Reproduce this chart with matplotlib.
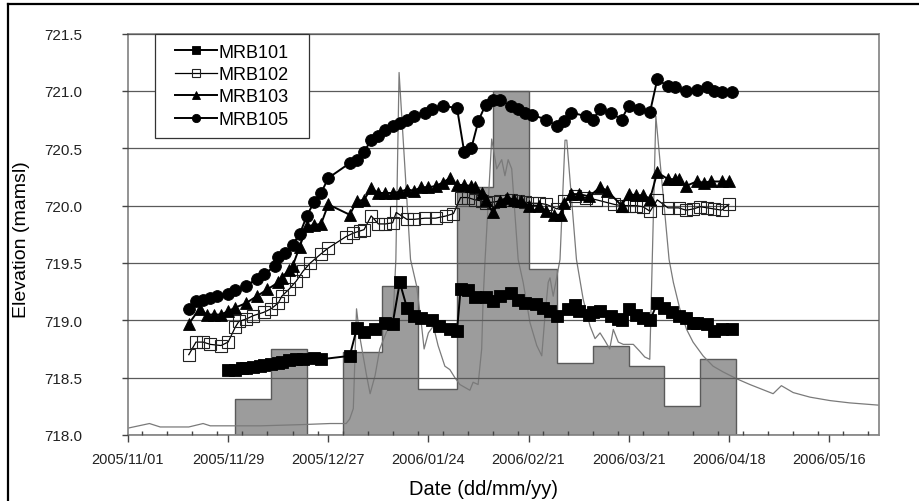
import numpy as np
import matplotlib
matplotlib.use("Agg")
import matplotlib.pyplot as plt
import matplotlib.dates as mdates
from matplotlib.lines import Line2D
from matplotlib.patches import Rectangle

plt.rcParams["font.family"] = ["Liberation Sans", "DejaVu Sans"]

START = "2005-11-01"

# Thin grey trace (river stage), days since START and elevation
stage_days = [0, 6, 9, 17, 21, 23, 37, 48, 56.5, 61, 62, 63, 63.9, 64.8, 66.7, 67.7, 69.1,
              70.4, 72.3, 74.1, 74.9, 75.8, 79.0, 80.7, 82.1, 82.8, 84.0, 85.4, 86.7, 88.6,
              90.0, 91.4, 92.8, 95.6, 96.5, 97.9, 98.9, 99.3, 99.8, 101.7, 103.1, 104.5,
              105.4, 106.3, 107.3, 109.1, 110.5, 112.4, 114.3, 115.7, 116.6, 117.5, 118.0,
              118.9, 120.8, 122.2, 122.7, 125.4, 127.3, 129.2, 130.6, 132.0, 133.4, 134.7,
              135.7, 137.1, 138.5, 141.3, 143.1, 144.5, 145.9, 147.6, 151.3, 152.5, 154.3,
              156.2, 158.0, 160.8, 163.6, 166.4, 170.2, 173.9, 180.4, 182.7, 186.0, 190.7,
              196.3, 201.8, 210]
stage_elev = [718.06, 718.10, 718.07, 718.07, 718.10, 718.08, 718.08, 718.09, 718.10, 718.10,
              718.14, 718.23, 719.10, 718.86, 718.52, 718.36, 718.52, 718.75, 718.90, 719.00,
              719.53, 721.16, 719.53, 719.30, 718.95, 718.75, 718.89, 718.95, 718.78, 718.60,
              718.57, 718.50, 718.44, 718.39, 718.46, 718.44, 718.75, 719.18, 719.50, 720.58,
              720.32, 720.40, 720.26, 720.40, 720.32, 719.53, 719.33, 718.98, 718.78, 718.69,
              719.04, 719.33, 719.37, 719.21, 719.53, 720.57, 720.57, 719.53, 719.18, 718.95,
              718.84, 718.89, 718.82, 718.75, 718.92, 718.81, 718.79, 718.79, 718.73, 718.68,
              718.66, 720.78, 719.53, 719.33, 719.10, 718.92, 718.81, 718.69, 718.60, 718.55,
              718.49, 718.44, 718.36, 718.43, 718.37, 718.33, 718.30, 718.28, 718.26]

# Ten-day rainfall blocks, drawn on the elevation scale
rain_edges = ["2005-12-01", "2005-12-11", "2005-12-21", "2005-12-31", "2006-01-11",
              "2006-01-21", "2006-02-01", "2006-02-11", "2006-02-21", "2006-03-01",
              "2006-03-11", "2006-03-21", "2006-03-31", "2006-04-10", "2006-04-20"]
rain_level = [718.31, 718.75, 718.00, 718.72, 719.30, 718.40, 720.16, 721.00, 719.45,
              718.63, 718.78, 718.60, 718.25, 718.66]

mrb101_days = [28, 30, 32, 33, 35, 37, 38, 40, 42, 43, 45, 47, 49, 52, 54, 62, 64, 66, 69, 72,
               74, 76, 78, 80, 82, 85, 87, 90, 92, 93, 95, 97, 100, 102, 104, 107, 109, 111,
               114, 116, 118, 120, 123, 125, 126, 129, 130, 132, 135, 137, 138, 140, 142, 144,
               146, 148, 150, 152, 154, 156, 158, 159, 162, 164, 166, 169]
mrb101_elev = [718.57, 718.57, 718.58, 718.58, 718.59, 718.60, 718.61, 718.62, 718.63, 718.64,
               718.65, 718.66, 718.66, 718.67, 718.66, 718.69, 718.93, 718.90, 718.92, 718.98,
               718.97, 719.33, 719.11, 719.04, 719.02, 719.00, 718.95, 718.92, 718.91, 719.27,
               719.26, 719.20, 719.20, 719.17, 719.21, 719.24, 719.18, 719.15, 719.14, 719.11,
               719.08, 719.04, 719.10, 719.13, 719.08, 719.05, 719.07, 719.08, 719.04, 719.01,
               719.00, 719.10, 719.05, 719.02, 719.00, 719.15, 719.11, 719.07, 719.04, 719.02,
               718.98, 718.98, 718.97, 718.91, 718.92, 718.92]

mrb102_days = [17, 19, 21, 23, 26, 28, 30, 31, 33, 35, 38, 40, 42, 43, 45, 47, 49, 51, 54, 56,
               61, 63, 65, 66, 68, 70, 72, 74, 75, 78, 80, 83, 86, 89, 91, 93, 95, 97, 99, 100,
               102, 104, 107, 109, 111, 113, 115, 117, 120, 122, 125, 128, 131, 136, 138, 140,
               142, 144, 146, 148, 151, 154, 156, 158, 160, 162, 164, 166, 168]
mrb102_elev = [718.70, 718.81, 718.81, 718.79, 718.78, 718.81, 718.94, 718.99, 719.01, 719.04,
               719.07, 719.10, 719.15, 719.21, 719.27, 719.34, 719.43, 719.50, 719.58, 719.63,
               719.73, 719.76, 719.78, 719.79, 719.91, 719.84, 719.84, 719.85, 719.94, 719.88,
               719.88, 719.89, 719.89, 719.91, 719.93, 720.07, 720.07, 720.05, 720.04, 720.02,
               720.03, 720.04, 720.05, 720.04, 720.03, 720.02, 720.02, 720.01, 719.97, 720.04,
               720.08, 720.07, 720.05, 720.01, 720.00, 720.00, 720.00, 719.99, 719.95, 720.05,
               719.98, 719.98, 719.96, 719.97, 719.99, 719.98, 719.97, 719.96, 720.01]

mrb103_days = [17, 20, 22, 24, 26, 28, 30, 33, 36, 39, 42, 43, 45, 46, 48, 50, 52, 54, 56, 62,
               64, 66, 68, 70, 72, 74, 76, 78, 80, 82, 84, 86, 88, 90, 92, 94, 96, 97, 99, 100,
               102, 104, 106, 108, 110, 112, 115, 117, 119, 121, 122, 124, 126, 129, 132, 134,
               138, 140, 142, 144, 146, 148, 151, 153, 154, 156, 159, 161, 163, 166, 168]
mrb103_elev = [718.97, 719.10, 719.05, 719.05, 719.05, 719.08, 719.11, 719.15, 719.21, 719.27,
               719.33, 719.37, 719.44, 719.47, 719.64, 719.82, 719.83, 719.84, 720.01, 719.92,
               720.04, 720.05, 720.15, 720.11, 720.11, 720.11, 720.12, 720.14, 720.13, 720.16,
               720.16, 720.17, 720.20, 720.24, 720.18, 720.18, 720.17, 720.16, 720.11, 720.05,
               719.94, 720.04, 720.07, 720.05, 720.04, 720.00, 720.00, 719.95, 719.92, 719.92,
               720.02, 720.10, 720.10, 720.08, 720.16, 720.13, 720.00, 720.10, 720.09, 720.09,
               720.06, 720.29, 720.23, 720.23, 720.23, 720.17, 720.21, 720.20, 720.21, 720.21,
               720.21]

mrb105_days = [17, 19, 21, 23, 25, 28, 30, 33, 36, 38, 41, 42, 44, 46, 48, 50, 52, 54, 56, 62,
               64, 66, 68, 70, 72, 74, 76, 78, 80, 83, 85, 88, 92, 94, 96, 98, 100, 102, 104,
               107, 109, 111, 113, 117, 120, 122, 124, 128, 130, 132, 135, 138, 140, 143, 146,
               148, 151, 153, 156, 159, 162, 164, 166, 169]
mrb105_elev = [719.10, 719.17, 719.18, 719.19, 719.21, 719.23, 719.26, 719.30, 719.36, 719.40,
               719.47, 719.55, 719.59, 719.66, 719.75, 719.91, 720.03, 720.11, 720.24, 720.37,
               720.40, 720.47, 720.57, 720.61, 720.66, 720.69, 720.72, 720.75, 720.78, 720.81,
               720.84, 720.87, 720.85, 720.47, 720.50, 720.74, 720.88, 720.92, 720.92, 720.87,
               720.84, 720.81, 720.79, 720.75, 720.69, 720.74, 720.81, 720.78, 720.75, 720.84,
               720.81, 720.75, 720.87, 720.84, 720.82, 721.10, 721.04, 721.03, 721.00, 721.01,
               721.03, 721.00, 720.99, 720.99]

tick_dates = ["2005-11-01", "2005-11-29", "2005-12-27", "2006-01-24", "2006-02-21",
              "2006-03-21", "2006-04-18", "2006-05-16"]
tick_labels = ["2005/11/01", "2005/11/29", "2005/12/27", "2006/01/24", "2006/02/21",
               "2006/03/21", "2006/04/18", "2006/05/16"]
y_ticks = [718.0, 718.5, 719.0, 719.5, 720.0, 720.5, 721.0, 721.5]
x_end = "2006-05-30"

t0 = mdates.datestr2num(START)


def to_num(days):
    return t0 + np.asarray(days, dtype=float)


fig = plt.figure(figsize=(9.2, 5.02), dpi=100)
ax = fig.add_axes([128 / 920, 1 - 436 / 502, 751 / 920, 401.5 / 502])

edges = mdates.datestr2num(rain_edges)
ax.stairs(rain_level, edges, baseline=718.0, fill=True, color="#9c9c9c", zorder=1)
ax.stairs(rain_level, edges, baseline=718.0, fill=False, color="#5a5a5a",
          linewidth=1.0, zorder=1.1)

ax.plot(to_num(stage_days), stage_elev, color="#7a7a7a", linewidth=0.9, zorder=2)

l101, = ax.plot(to_num(mrb101_days), mrb101_elev, color="black", linewidth=1.4,
                marker="s", markersize=9, markeredgewidth=0.6, zorder=4, label="MRB101")
l102, = ax.plot(to_num(mrb102_days), mrb102_elev, color="black", linewidth=0.9,
                marker="s", markersize=8.5, markerfacecolor="none", markeredgecolor="#222222",
                markeredgewidth=0.8, zorder=3.5, label="MRB102")
l103, = ax.plot(to_num(mrb103_days), mrb103_elev, color="black", linewidth=1.4,
                marker="^", markersize=8.5, markeredgewidth=0.6, zorder=4, label="MRB103")
l105, = ax.plot(to_num(mrb105_days), mrb105_elev, color="black", linewidth=1.4,
                marker="o", markersize=8.5, markeredgewidth=0.6, zorder=4, label="MRB105")

ax.set_xlim(t0, mdates.datestr2num(x_end))
ax.set_ylim(y_ticks[0], y_ticks[-1])

ax.set_xticks(mdates.datestr2num(tick_dates))
ax.set_xticklabels(tick_labels, fontsize=10.5, color="#222222")
ax.xaxis.set_minor_locator(mdates.DayLocator(interval=7))
ax.set_yticks(y_ticks)
ax.set_yticklabels([f"{v:.1f}" for v in y_ticks], fontsize=11, color="#222222")

ax.tick_params(axis="x", which="major", direction="out", length=5, width=1,
               color="#444444", pad=7)
ax.tick_params(axis="x", which="minor", direction="in", length=3, width=1,
               color="#444444")
ax.tick_params(axis="y", which="major", direction="out", length=4, width=1,
               color="#444444", pad=29)

ax.set_axisbelow(False)
ax.yaxis.grid(True, color="#5a5a5a", linewidth=0.9)
for s in ax.spines.values():
    s.set_color("#8a8a8a")
    s.set_linewidth(1.3)

ax.set_xlabel("Date (dd/mm/yy)", fontsize=14.5)
ax.xaxis.set_label_coords(0.473, -0.11)
ax.set_ylabel("Elevation (mamsl)", fontsize=14)
ax.yaxis.set_label_coords(-0.13, 0.49)

# legend box sitting on the top-left corner of the plot area
box_x0, box_x1 = (155 - 128) / 751, (309 - 128) / 751
box_y0, box_y1 = (436 - 139) / 401.5, 1.0
ax.add_patch(Rectangle((box_x0, box_y0), box_x1 - box_x0, box_y1 - box_y0,
                       transform=ax.transAxes, facecolor="white", edgecolor="#333333",
                       linewidth=0.9, zorder=6, clip_on=False))
leg = ax.legend(handles=[l101, l102, l103, l105], loc="center",
                bbox_to_anchor=((box_x0 + box_x1) / 2, (box_y0 + box_y1) / 2),
                frameon=False, fontsize=13, handlelength=2.3, handletextpad=0.12,
                labelspacing=0.3, markerscale=0.7, borderpad=0)
leg.set_zorder(7)

# outer frame of the figure
fig.add_artist(Line2D([8 / 920, 8 / 920], [0, 1 - 5 / 502], color="black", linewidth=1.6))
fig.add_artist(Line2D([8 / 920, 1], [1 - 5 / 502, 1 - 5 / 502], color="black", linewidth=1.6))

fig.savefig("out.png", dpi=100)
